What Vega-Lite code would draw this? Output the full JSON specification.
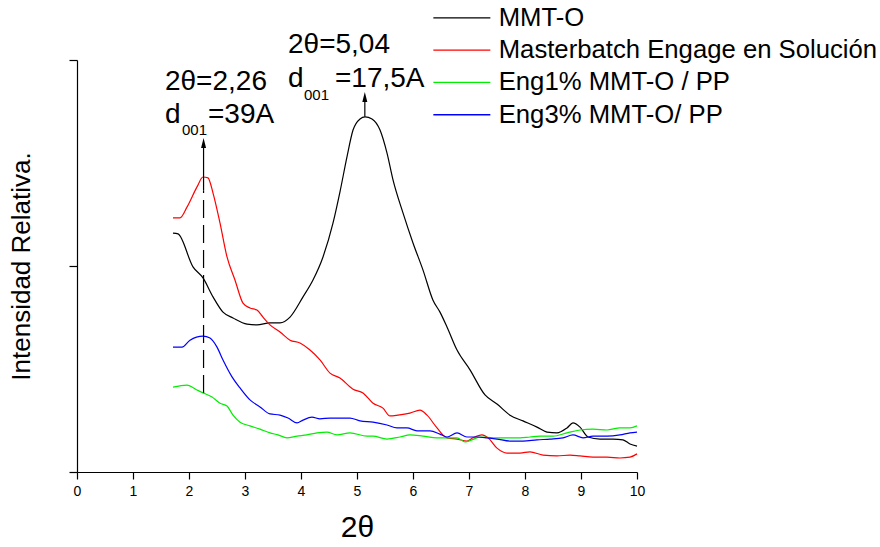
{
  "$schema": "https://vega.github.io/schema/vega-lite/v6.json",
  "width": 560,
  "height": 412,
  "autosize": "none",
  "padding": {"left": 77, "top": 60, "right": 243, "bottom": 75},
  "background": "white",
  "config": {
    "view": {"stroke": null},
    "font": "Liberation Sans",
    "axis": {"grid": false, "domainColor": "black", "tickColor": "black", "labelColor": "black", "titleColor": "black", "titleFontWeight": "normal", "labelFont": "Liberation Sans", "titleFont": "Liberation Sans"}
  },
  "datasets": {
    "curves": [
      {"series": "MMT-O", "x": 1.714, "y": 58.0},
      {"series": "MMT-O", "x": 1.804, "y": 57.8},
      {"series": "MMT-O", "x": 2.071, "y": 49.8},
      {"series": "MMT-O", "x": 2.25, "y": 47.1},
      {"series": "MMT-O", "x": 2.429, "y": 42.5},
      {"series": "MMT-O", "x": 2.607, "y": 38.8},
      {"series": "MMT-O", "x": 2.786, "y": 37.4},
      {"series": "MMT-O", "x": 3.036, "y": 35.9},
      {"series": "MMT-O", "x": 3.214, "y": 35.7},
      {"series": "MMT-O", "x": 3.446, "y": 36.2},
      {"series": "MMT-O", "x": 3.625, "y": 36.2},
      {"series": "MMT-O", "x": 3.804, "y": 37.6},
      {"series": "MMT-O", "x": 4.036, "y": 42.5},
      {"series": "MMT-O", "x": 4.214, "y": 46.6},
      {"series": "MMT-O", "x": 4.393, "y": 52.2},
      {"series": "MMT-O", "x": 4.571, "y": 60.4},
      {"series": "MMT-O", "x": 4.696, "y": 68.0},
      {"series": "MMT-O", "x": 4.821, "y": 76.5},
      {"series": "MMT-O", "x": 4.929, "y": 83.0},
      {"series": "MMT-O", "x": 5.054, "y": 85.7},
      {"series": "MMT-O", "x": 5.143, "y": 86.2},
      {"series": "MMT-O", "x": 5.268, "y": 85.7},
      {"series": "MMT-O", "x": 5.411, "y": 83.0},
      {"series": "MMT-O", "x": 5.536, "y": 77.4},
      {"series": "MMT-O", "x": 5.643, "y": 70.9},
      {"series": "MMT-O", "x": 5.821, "y": 62.9},
      {"series": "MMT-O", "x": 6.0, "y": 55.6},
      {"series": "MMT-O", "x": 6.179, "y": 49.0},
      {"series": "MMT-O", "x": 6.357, "y": 41.7},
      {"series": "MMT-O", "x": 6.482, "y": 38.8},
      {"series": "MMT-O", "x": 6.607, "y": 35.2},
      {"series": "MMT-O", "x": 6.786, "y": 29.6},
      {"series": "MMT-O", "x": 7.018, "y": 24.8},
      {"series": "MMT-O", "x": 7.286, "y": 18.7},
      {"series": "MMT-O", "x": 7.5, "y": 16.5},
      {"series": "MMT-O", "x": 7.732, "y": 13.8},
      {"series": "MMT-O", "x": 7.964, "y": 12.4},
      {"series": "MMT-O", "x": 8.214, "y": 10.9},
      {"series": "MMT-O", "x": 8.393, "y": 9.7},
      {"series": "MMT-O", "x": 8.571, "y": 9.5},
      {"series": "MMT-O", "x": 8.75, "y": 10.7},
      {"series": "MMT-O", "x": 8.857, "y": 11.9},
      {"series": "MMT-O", "x": 8.982, "y": 10.9},
      {"series": "MMT-O", "x": 9.125, "y": 8.5},
      {"series": "MMT-O", "x": 9.339, "y": 8.0},
      {"series": "MMT-O", "x": 9.571, "y": 8.0},
      {"series": "MMT-O", "x": 9.75, "y": 7.8},
      {"series": "MMT-O", "x": 9.875, "y": 6.8},
      {"series": "MMT-O", "x": 10.0, "y": 6.3},
      {"series": "Masterbatch Engage en Solución", "x": 1.714, "y": 61.7},
      {"series": "Masterbatch Engage en Solución", "x": 1.839, "y": 61.7},
      {"series": "Masterbatch Engage en Solución", "x": 1.964, "y": 64.3},
      {"series": "Masterbatch Engage en Solución", "x": 2.143, "y": 69.2},
      {"series": "Masterbatch Engage en Solución", "x": 2.25, "y": 71.6},
      {"series": "Masterbatch Engage en Solución", "x": 2.339, "y": 71.4},
      {"series": "Masterbatch Engage en Solución", "x": 2.429, "y": 67.7},
      {"series": "Masterbatch Engage en Solución", "x": 2.554, "y": 60.4},
      {"series": "Masterbatch Engage en Solución", "x": 2.679, "y": 52.2},
      {"series": "Masterbatch Engage en Solución", "x": 2.821, "y": 46.6},
      {"series": "Masterbatch Engage en Solución", "x": 2.964, "y": 41.0},
      {"series": "Masterbatch Engage en Solución", "x": 3.089, "y": 39.8},
      {"series": "Masterbatch Engage en Solución", "x": 3.214, "y": 39.3},
      {"series": "Masterbatch Engage en Solución", "x": 3.321, "y": 37.6},
      {"series": "Masterbatch Engage en Solución", "x": 3.446, "y": 35.7},
      {"series": "Masterbatch Engage en Solución", "x": 3.625, "y": 34.0},
      {"series": "Masterbatch Engage en Solución", "x": 3.804, "y": 32.0},
      {"series": "Masterbatch Engage en Solución", "x": 3.982, "y": 31.3},
      {"series": "Masterbatch Engage en Solución", "x": 4.161, "y": 29.6},
      {"series": "Masterbatch Engage en Solución", "x": 4.339, "y": 27.2},
      {"series": "Masterbatch Engage en Solución", "x": 4.518, "y": 24.0},
      {"series": "Masterbatch Engage en Solución", "x": 4.696, "y": 22.8},
      {"series": "Masterbatch Engage en Solución", "x": 4.929, "y": 20.1},
      {"series": "Masterbatch Engage en Solución", "x": 5.107, "y": 19.2},
      {"series": "Masterbatch Engage en Solución", "x": 5.286, "y": 16.7},
      {"series": "Masterbatch Engage en Solución", "x": 5.464, "y": 15.5},
      {"series": "Masterbatch Engage en Solución", "x": 5.589, "y": 13.6},
      {"series": "Masterbatch Engage en Solución", "x": 5.732, "y": 13.8},
      {"series": "Masterbatch Engage en Solución", "x": 5.946, "y": 14.3},
      {"series": "Masterbatch Engage en Solución", "x": 6.125, "y": 15.0},
      {"series": "Masterbatch Engage en Solución", "x": 6.25, "y": 13.8},
      {"series": "Masterbatch Engage en Solución", "x": 6.429, "y": 10.7},
      {"series": "Masterbatch Engage en Solución", "x": 6.607, "y": 8.3},
      {"series": "Masterbatch Engage en Solución", "x": 6.786, "y": 8.0},
      {"series": "Masterbatch Engage en Solución", "x": 6.964, "y": 7.5},
      {"series": "Masterbatch Engage en Solución", "x": 7.071, "y": 8.3},
      {"series": "Masterbatch Engage en Solución", "x": 7.232, "y": 9.0},
      {"series": "Masterbatch Engage en Solución", "x": 7.339, "y": 8.3},
      {"series": "Masterbatch Engage en Solución", "x": 7.5, "y": 5.8},
      {"series": "Masterbatch Engage en Solución", "x": 7.679, "y": 4.6},
      {"series": "Masterbatch Engage en Solución", "x": 7.911, "y": 4.6},
      {"series": "Masterbatch Engage en Solución", "x": 8.089, "y": 4.9},
      {"series": "Masterbatch Engage en Solución", "x": 8.321, "y": 4.1},
      {"series": "Masterbatch Engage en Solución", "x": 8.571, "y": 3.9},
      {"series": "Masterbatch Engage en Solución", "x": 8.804, "y": 4.1},
      {"series": "Masterbatch Engage en Solución", "x": 8.982, "y": 3.9},
      {"series": "Masterbatch Engage en Solución", "x": 9.214, "y": 3.6},
      {"series": "Masterbatch Engage en Solución", "x": 9.464, "y": 3.6},
      {"series": "Masterbatch Engage en Solución", "x": 9.696, "y": 3.4},
      {"series": "Masterbatch Engage en Solución", "x": 9.875, "y": 3.6},
      {"series": "Masterbatch Engage en Solución", "x": 10.0, "y": 4.4},
      {"series": "Eng1% MMT-O / PP", "x": 1.714, "y": 20.6},
      {"series": "Eng1% MMT-O / PP", "x": 1.964, "y": 21.1},
      {"series": "Eng1% MMT-O / PP", "x": 2.143, "y": 19.9},
      {"series": "Eng1% MMT-O / PP", "x": 2.25, "y": 19.2},
      {"series": "Eng1% MMT-O / PP", "x": 2.411, "y": 18.2},
      {"series": "Eng1% MMT-O / PP", "x": 2.554, "y": 16.7},
      {"series": "Eng1% MMT-O / PP", "x": 2.679, "y": 16.0},
      {"series": "Eng1% MMT-O / PP", "x": 2.786, "y": 13.8},
      {"series": "Eng1% MMT-O / PP", "x": 2.911, "y": 12.1},
      {"series": "Eng1% MMT-O / PP", "x": 3.089, "y": 11.2},
      {"series": "Eng1% MMT-O / PP", "x": 3.268, "y": 10.4},
      {"series": "Eng1% MMT-O / PP", "x": 3.446, "y": 9.5},
      {"series": "Eng1% MMT-O / PP", "x": 3.589, "y": 9.0},
      {"series": "Eng1% MMT-O / PP", "x": 3.75, "y": 8.3},
      {"series": "Eng1% MMT-O / PP", "x": 3.929, "y": 8.7},
      {"series": "Eng1% MMT-O / PP", "x": 4.107, "y": 9.0},
      {"series": "Eng1% MMT-O / PP", "x": 4.286, "y": 9.5},
      {"series": "Eng1% MMT-O / PP", "x": 4.464, "y": 9.7},
      {"series": "Eng1% MMT-O / PP", "x": 4.643, "y": 9.0},
      {"series": "Eng1% MMT-O / PP", "x": 4.875, "y": 9.5},
      {"series": "Eng1% MMT-O / PP", "x": 5.179, "y": 8.7},
      {"series": "Eng1% MMT-O / PP", "x": 5.286, "y": 8.7},
      {"series": "Eng1% MMT-O / PP", "x": 5.536, "y": 8.0},
      {"series": "Eng1% MMT-O / PP", "x": 5.768, "y": 8.5},
      {"series": "Eng1% MMT-O / PP", "x": 5.946, "y": 9.0},
      {"series": "Eng1% MMT-O / PP", "x": 6.179, "y": 8.7},
      {"series": "Eng1% MMT-O / PP", "x": 6.429, "y": 8.3},
      {"series": "Eng1% MMT-O / PP", "x": 6.607, "y": 8.3},
      {"series": "Eng1% MMT-O / PP", "x": 6.786, "y": 8.3},
      {"series": "Eng1% MMT-O / PP", "x": 6.929, "y": 7.3},
      {"series": "Eng1% MMT-O / PP", "x": 7.054, "y": 7.8},
      {"series": "Eng1% MMT-O / PP", "x": 7.196, "y": 8.5},
      {"series": "Eng1% MMT-O / PP", "x": 7.429, "y": 8.3},
      {"series": "Eng1% MMT-O / PP", "x": 7.679, "y": 8.3},
      {"series": "Eng1% MMT-O / PP", "x": 7.911, "y": 8.3},
      {"series": "Eng1% MMT-O / PP", "x": 8.089, "y": 8.5},
      {"series": "Eng1% MMT-O / PP", "x": 8.268, "y": 8.7},
      {"series": "Eng1% MMT-O / PP", "x": 8.5, "y": 8.7},
      {"series": "Eng1% MMT-O / PP", "x": 8.75, "y": 9.5},
      {"series": "Eng1% MMT-O / PP", "x": 8.982, "y": 10.2},
      {"series": "Eng1% MMT-O / PP", "x": 9.214, "y": 10.4},
      {"series": "Eng1% MMT-O / PP", "x": 9.464, "y": 10.2},
      {"series": "Eng1% MMT-O / PP", "x": 9.696, "y": 10.7},
      {"series": "Eng1% MMT-O / PP", "x": 9.875, "y": 10.7},
      {"series": "Eng1% MMT-O / PP", "x": 10.0, "y": 11.2},
      {"series": "Eng3% MMT-O/  PP", "x": 1.714, "y": 30.3},
      {"series": "Eng3% MMT-O/  PP", "x": 1.875, "y": 30.3},
      {"series": "Eng3% MMT-O/  PP", "x": 2.018, "y": 32.0},
      {"series": "Eng3% MMT-O/  PP", "x": 2.25, "y": 33.0},
      {"series": "Eng3% MMT-O/  PP", "x": 2.375, "y": 32.5},
      {"series": "Eng3% MMT-O/  PP", "x": 2.5, "y": 30.3},
      {"series": "Eng3% MMT-O/  PP", "x": 2.607, "y": 27.2},
      {"series": "Eng3% MMT-O/  PP", "x": 2.768, "y": 23.1},
      {"series": "Eng3% MMT-O/  PP", "x": 2.911, "y": 20.4},
      {"series": "Eng3% MMT-O/  PP", "x": 3.089, "y": 17.5},
      {"series": "Eng3% MMT-O/  PP", "x": 3.268, "y": 15.8},
      {"series": "Eng3% MMT-O/  PP", "x": 3.446, "y": 14.1},
      {"series": "Eng3% MMT-O/  PP", "x": 3.625, "y": 13.8},
      {"series": "Eng3% MMT-O/  PP", "x": 3.768, "y": 13.1},
      {"series": "Eng3% MMT-O/  PP", "x": 3.929, "y": 11.9},
      {"series": "Eng3% MMT-O/  PP", "x": 4.036, "y": 12.6},
      {"series": "Eng3% MMT-O/  PP", "x": 4.196, "y": 13.3},
      {"series": "Eng3% MMT-O/  PP", "x": 4.339, "y": 12.9},
      {"series": "Eng3% MMT-O/  PP", "x": 4.518, "y": 13.1},
      {"series": "Eng3% MMT-O/  PP", "x": 4.696, "y": 13.1},
      {"series": "Eng3% MMT-O/  PP", "x": 4.875, "y": 13.1},
      {"series": "Eng3% MMT-O/  PP", "x": 5.054, "y": 12.4},
      {"series": "Eng3% MMT-O/  PP", "x": 5.286, "y": 12.1},
      {"series": "Eng3% MMT-O/  PP", "x": 5.536, "y": 11.4},
      {"series": "Eng3% MMT-O/  PP", "x": 5.714, "y": 10.7},
      {"series": "Eng3% MMT-O/  PP", "x": 5.893, "y": 10.7},
      {"series": "Eng3% MMT-O/  PP", "x": 6.071, "y": 10.0},
      {"series": "Eng3% MMT-O/  PP", "x": 6.304, "y": 10.0},
      {"series": "Eng3% MMT-O/  PP", "x": 6.482, "y": 9.2},
      {"series": "Eng3% MMT-O/  PP", "x": 6.607, "y": 8.5},
      {"series": "Eng3% MMT-O/  PP", "x": 6.786, "y": 9.5},
      {"series": "Eng3% MMT-O/  PP", "x": 6.964, "y": 8.5},
      {"series": "Eng3% MMT-O/  PP", "x": 7.143, "y": 8.5},
      {"series": "Eng3% MMT-O/  PP", "x": 7.321, "y": 8.3},
      {"series": "Eng3% MMT-O/  PP", "x": 7.5, "y": 8.0},
      {"series": "Eng3% MMT-O/  PP", "x": 7.732, "y": 7.5},
      {"series": "Eng3% MMT-O/  PP", "x": 7.964, "y": 7.5},
      {"series": "Eng3% MMT-O/  PP", "x": 8.214, "y": 7.8},
      {"series": "Eng3% MMT-O/  PP", "x": 8.446, "y": 8.0},
      {"series": "Eng3% MMT-O/  PP", "x": 8.679, "y": 8.3},
      {"series": "Eng3% MMT-O/  PP", "x": 8.857, "y": 9.0},
      {"series": "Eng3% MMT-O/  PP", "x": 9.036, "y": 8.3},
      {"series": "Eng3% MMT-O/  PP", "x": 9.214, "y": 8.7},
      {"series": "Eng3% MMT-O/  PP", "x": 9.464, "y": 8.7},
      {"series": "Eng3% MMT-O/  PP", "x": 9.696, "y": 9.0},
      {"series": "Eng3% MMT-O/  PP", "x": 9.875, "y": 9.5},
      {"series": "Eng3% MMT-O/  PP", "x": 10.0, "y": 9.7}
    ],
    "solidRules": [
      {"x": 2.26, "y": 68.4, "y2": 79.6},
      {"x": 5.14, "y": 86.2, "y2": 91.0}
    ],
    "dashedRules": [
      {"x": 2.26, "y": 19.2, "y2": 68.4}
    ],
    "arrows": [
      {"x": 2.26, "y": 79.85},
      {"x": 5.14, "y": 91.0}
    ],
    "bigText": [
      {"x": 1.571, "y": 92.7, "t": "2θ=2,26"},
      {"x": 1.571, "y": 84.7, "t": "d"},
      {"x": 2.339, "y": 84.7, "t": "=39A"},
      {"x": 3.768, "y": 101.7, "t": "2θ=5,04"},
      {"x": 3.768, "y": 93.4, "t": "d"},
      {"x": 4.607, "y": 93.4, "t": "=17,5A"}
    ],
    "subText": [
      {"x": 1.875, "y": 81.8, "t": "001"},
      {"x": 4.054, "y": 90.3, "t": "001"}
    ]
  },
  "layer": [
    {
      "data": {"name": "curves"},
      "mark": {"type": "line", "interpolate": "monotone", "strokeWidth": 1.2, "clip": false},
      "encoding": {
        "x": {
          "field": "x", "type": "quantitative",
          "scale": {"domain": [0, 10], "nice": false, "zero": false},
          "axis": {
            "title": "2θ", "titleFontSize": 30, "titlePadding": 14,
            "values": [0, 0.5, 1, 1.5, 2, 2.5, 3, 3.5, 4, 4.5, 5, 5.5, 6, 6.5, 7, 7.5, 8, 8.5, 9, 9.5, 10],
            "labelExpr": "datum.value % 1 === 0 ? datum.label : ''",
            "labelFontSize": 14, "labelPadding": 5, "labelFlush": false,
            "tickSize": {"condition": {"test": "datum.value % 1 !== 0", "value": 4}, "value": 7},
            "domainWidth": 1.2, "tickWidth": 1.2
          }
        },
        "y": {
          "field": "y", "type": "quantitative",
          "scale": {"domain": [0, 100], "nice": false, "zero": false},
          "axis": {
            "title": "Intensidad Relativa.", "titleFontSize": 26, "titlePadding": 34,
            "values": [0, 50, 100], "labels": false, "tickSize": 8,
            "domainWidth": 1.2, "tickWidth": 1.2
          }
        },
        "color": {
          "field": "series", "type": "nominal",
          "scale": {
            "domain": ["MMT-O", "Masterbatch Engage en Solución", "Eng1% MMT-O / PP", "Eng3% MMT-O/  PP"],
            "range": ["#000000", "#ff0000", "#00ee00", "#0000ff"]
          },
          "legend": {
            "title": null, "orient": "none", "legendX": 372, "legendY": -55,
            "symbolType": "M-5,0H5", "symbolSize": 130, "symbolStrokeWidth": 1.3,
            "labelFontSize": 25.7, "labelFont": "Liberation Sans", "labelColor": "black",
            "labelOffset": 24, "rowPadding": 5.3, "labelLimit": 600, "padding": 0,
            "encode": {"symbols": {"update": {"stroke": {"scale": "color", "field": "value"}, "fill": {"value": "transparent"}, "opacity": {"value": 1}}}}
          }
        }
      }
    },
    {
      "data": {"name": "solidRules"},
      "mark": {"type": "rule", "color": "black", "strokeWidth": 1.2},
      "encoding": {
        "x": {"field": "x", "type": "quantitative"},
        "y": {"field": "y", "type": "quantitative"},
        "y2": {"field": "y2"}
      }
    },
    {
      "data": {"name": "dashedRules"},
      "mark": {"type": "rule", "color": "black", "strokeWidth": 1.2, "strokeDash": [18, 7]},
      "encoding": {
        "x": {"field": "x", "type": "quantitative"},
        "y": {"field": "y", "type": "quantitative"},
        "y2": {"field": "y2"}
      }
    },
    {
      "data": {"name": "arrows"},
      "mark": {"type": "point", "shape": "M0,-1L0.5,1L-0.5,1Z", "filled": true, "color": "black", "size": 100, "opacity": 1},
      "encoding": {
        "x": {"field": "x", "type": "quantitative"},
        "y": {"field": "y", "type": "quantitative"}
      }
    },
    {
      "data": {"name": "bigText"},
      "mark": {"type": "text", "align": "left", "baseline": "alphabetic", "fontSize": 28, "font": "Liberation Sans", "color": "black"},
      "encoding": {
        "x": {"field": "x", "type": "quantitative"},
        "y": {"field": "y", "type": "quantitative"},
        "text": {"field": "t"}
      }
    },
    {
      "data": {"name": "subText"},
      "mark": {"type": "text", "align": "left", "baseline": "alphabetic", "fontSize": 15, "font": "Liberation Sans", "color": "black"},
      "encoding": {
        "x": {"field": "x", "type": "quantitative"},
        "y": {"field": "y", "type": "quantitative"},
        "text": {"field": "t"}
      }
    }
  ]
}
